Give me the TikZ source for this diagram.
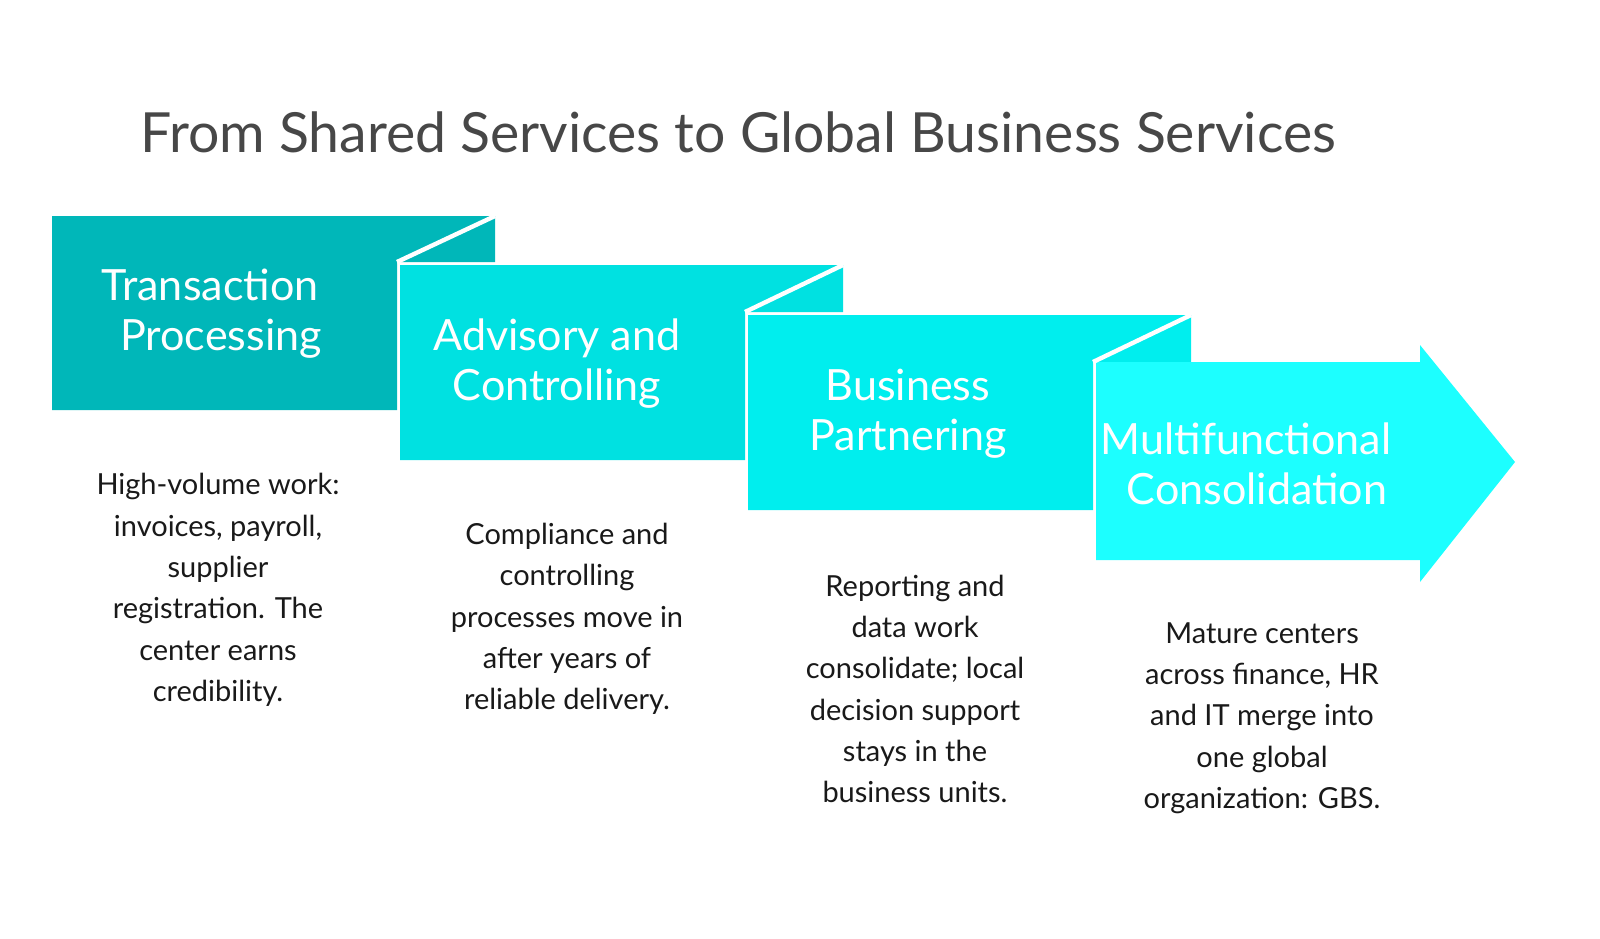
\documentclass[tikz,border=0pt]{standalone}
\usepackage{fontspec}
\setmainfont{Lato}
\begin{document}
\begin{tikzpicture}[x=0.02cm,y=-0.02cm,
  lbl/.style={text=white,font=\fontsize{24.5}{28.5}\selectfont,align=center},
  body/.style={text=black!90,font=\fontsize{16.5}{23.5}\selectfont,align=center},
  edge/.style={draw=white,line width=2.5pt,line join=miter}]
\useasboundingbox (0,0) rectangle (1600,938);
\definecolor{c1}{HTML}{00B7B9}
\definecolor{c2}{HTML}{00E1E1}
\definecolor{c3}{HTML}{00EEEE}
\definecolor{c4}{HTML}{1CFFFF}
\node[text=black!72,font=\fontsize{31.5}{36}\selectfont] (title) at (738,132) {From Shared Services to Global Business Services};
\fill[c1] (52,216) -- (495,216) -- (495,262) -- (397,262) -- (397,410) -- (52,410) -- cycle;
\fill[c2] (400,265) -- (843,265) -- (843,312) -- (745,312) -- (745,460) -- (400,460) -- cycle;
\draw[edge] (397,262) -- (495,216);
\fill[c3] (748,315) -- (1191,315) -- (1191,362) -- (1093,362) -- (1093,510) -- (748,510) -- cycle;
\draw[edge] (745,312) -- (843,265);
\fill[c4] (1096,362) -- (1420,362) -- (1420,345) -- (1515,462) -- (1420,582) -- (1420,560) -- (1096,560) -- cycle;
\draw[edge] (1093,362) -- (1191,315);
\node[lbl] (l1) at (210,314) {Transaction\\\ \ Processing};
\node[lbl] (l2) at (557,364) {Advisory and\\Controlling};
\node[lbl] (l3) at (908,414) {Business\\Partnering};
\node[lbl] (l4) at (1246,464) {Multifunctional\\\ \ Consolidation};
\node[body] (b1) at (218,590) {High-volume work:\\invoices, payroll,\\supplier\\registration. The\\center earns\\credibility.};
\node[body] (b2) at (567,619) {Compliance and\\controlling\\processes move in\\after years of\\reliable delivery.};
\node[body] (b3) at (915,689) {Reporting and\\data work\\consolidate; local\\decision support\\stays in the\\business units.};
\node[body] (b4) at (1262,718) {Mature centers\\across finance, HR\\and IT merge into\\one global\\organization: GBS.};
\end{tikzpicture}
\end{document}
